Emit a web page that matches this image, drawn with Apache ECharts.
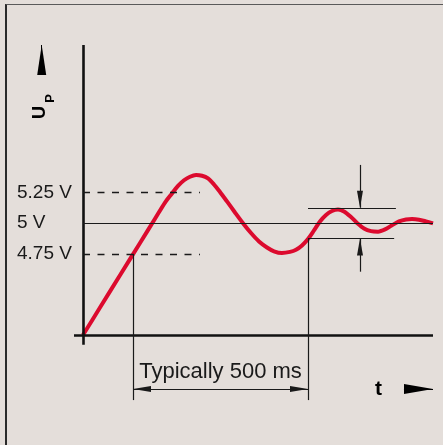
<!DOCTYPE html>
<html>
<head>
<meta charset="utf-8">
<script src="https://cdn.jsdelivr.net/npm/echarts@6/dist/echarts.min.js"></script>
<style>
  html, body { margin: 0; padding: 0; background: #e4deda; }
  #wrap { position: relative; width: 443px; height: 445px; overflow: hidden; }
  #frame { position: absolute; left: 5px; top: 4px; width: 460px; height: 460px;
           border-top: 1.5px solid #5a5a5a; border-left: 2px solid #2a2a2a; box-sizing: border-box; }
  #chart { position: absolute; left: 0; top: 0; width: 443px; height: 445px; }
</style>
</head>
<body>
<div id="wrap"><div id="frame"></div><div id="chart"></div></div>
<script>
// Time (ms) and supply voltage (V)
const timeMs  = [0, 48.6, 105.7, 162.9, 205.7, 234.3, 254.3, 271.4, 288.6, 305.7, 322.9, 340, 357.1, 374.3, 391.4,
                 411.4, 434.3, 457.1, 480, 502.9, 525.7, 545.7, 568.6, 591.4, 608.6, 625.7, 642.9, 660, 677.1,
                 694.3, 711.4, 728.6, 745.7, 765.7, 782.9, 802.9, 822.9, 842.9, 862.9, 882.9, 902.9, 922.9,
                 940, 960, 980, 1000];
const voltage = [4.09, 4.313, 4.576, 4.839, 5.036, 5.168, 5.242, 5.303, 5.349, 5.378, 5.392, 5.386, 5.364, 5.315, 5.254,
                 5.177, 5.087, 5.0, 4.92, 4.851, 4.802, 4.771, 4.757, 4.766, 4.784, 4.819, 4.871, 4.941, 5.014,
                 5.067, 5.099, 5.111, 5.095, 5.05, 5.002, 4.957, 4.935, 4.931, 4.949, 4.983, 5.014, 5.03,
                 5.033, 5.028, 5.014, 4.998];

// Reference levels / tick labels
const levelTicks   = [4.75, 5, 5.25];
const nominalLevel = [5];
const limitLevels  = [4.75, 5.25];
const bandLevels   = [4.875, 5.125];
const markTimes    = [142.9, 642.9];   // 4.75 V crossing, settled
const dimText      = ['Typically 500 ms'];
const axisNames    = ['U', 'P', 't'];

const ink = '#1a1a1a';
const thin = { color: ink, width: 1.2, type: 'solid' };
const font = 'Liberation Sans, Arial, sans-serif';

const mlData = [
  [{ coord: [-25.7, 4.09], lineStyle: { color: '#111', width: 2.6, type: 'solid' } }, { coord: [1000, 4.09] }],
  [{ coord: [0, 4.01], lineStyle: { color: '#111', width: 2.6, type: 'solid' } }, { coord: [0, 6.45] }],
  [{ coord: [0, nominalLevel[0]], lineStyle: thin }, { coord: [1000, nominalLevel[0]] }],
  [{ coord: [0, limitLevels[1]], lineStyle: { color: ink, width: 1.3, type: [7, 7.5] } }, { coord: [334, limitLevels[1]] }],
  [{ coord: [0, limitLevels[0]], lineStyle: { color: ink, width: 1.3, type: [7, 7.5] } }, { coord: [334, limitLevels[0]] }],
  [{ coord: [markTimes[0], limitLevels[0]], lineStyle: thin }, { coord: [markTimes[0], 3.56] }],
  [{ coord: [markTimes[1], bandLevels[0]], lineStyle: thin }, { coord: [markTimes[1], 3.56] }],
  [{ coord: [markTimes[1], bandLevels[1]], lineStyle: thin }, { coord: [894, bandLevels[1]] }],
  [{ coord: [markTimes[1], bandLevels[0]], lineStyle: thin }, { coord: [889, bandLevels[0]] }],
  [{ coord: [791.4, 5.474], lineStyle: thin }, { coord: [791.4, bandLevels[1]], symbol: 'triangle', symbolSize: [6, 17], symbolOffset: [0, 8.5] }],
  [{ coord: [791.4, 4.605], lineStyle: thin }, { coord: [791.4, bandLevels[0]], symbol: 'triangle', symbolSize: [6, 17], symbolOffset: [0, 8.5] }],
  [{ coord: [markTimes[0], 3.65], symbol: 'triangle', symbolSize: [6, 18], symbolOffset: [0, 9], lineStyle: thin,
     label: { show: true, position: 'insideMiddleTop', distance: 6, formatter: dimText[0], fontSize: 22, color: ink, fontFamily: font } },
   { coord: [markTimes[1], 3.65], symbol: 'triangle', symbolSize: [6, 18], symbolOffset: [0, 9] }],
  [{ coord: [917, 3.65], lineStyle: { color: '#000', width: 1, type: 'solid' },
     label: { show: true, position: 'start', distance: 22, formatter: axisNames[2], fontSize: 21, fontWeight: 'bold', color: '#000', fontFamily: font } },
   { coord: [1000, 3.65], symbol: 'triangle', symbolSize: [10, 29], symbolOffset: [0, 14.5] }],
  [{ coord: [-118, 6.206], lineStyle: { color: '#000', width: 1, type: 'solid' } },
   { coord: [-118, 6.45], symbol: 'triangle', symbolSize: [9, 30], symbolOffset: [0, 15] }]
];

const chart = echarts.init(document.getElementById('chart'), null, { renderer: 'canvas' });
chart.setOption({
  backgroundColor: 'transparent',
  animation: false,
  grid: { left: 13, right: 10, top: 45, bottom: 40 },
  xAxis: {
    type: 'value', min: -200, max: 1000,
    axisLine: { show: false }, axisTick: { show: false }, axisLabel: { show: false }, splitLine: { show: false }
  },
  yAxis: {
    type: 'value', min: 3.52, max: 6.45,
    axisLine: { show: false }, axisTick: { show: false }, splitLine: { show: false },
    axisLabel: {
      show: true, inside: true, margin: 4, align: 'left',
      customValues: levelTicks,
      formatter: v => v + ' V',
      fontSize: 19, color: ink, fontFamily: font
    }
  },
  graphic: [
    { type: 'text', x: 40, y: 112.5, rotation: Math.PI / 2,
      style: { text: axisNames[0], font: 'bold 18px ' + font, fill: '#000', align: 'center', verticalAlign: 'middle' } },
    { type: 'text', x: 50.5, y: 98.5, rotation: Math.PI / 2,
      style: { text: axisNames[1], font: 'bold 13px ' + font, fill: '#000', align: 'center', verticalAlign: 'middle' } }
  ],
  series: [{
    type: 'line',
    data: timeMs.map((t, i) => [t, voltage[i]]),
    smooth: 0.3,
    symbol: 'none',
    silent: true,
    clip: false,
    lineStyle: { color: '#dc0a2e', width: 4 },
    markLine: {
      silent: true,
      symbol: 'none',
      label: { show: false },
      lineStyle: { type: 'solid' },
      emphasis: { disabled: true },
      data: mlData
    }
  }]
});
</script>
</body>
</html>
